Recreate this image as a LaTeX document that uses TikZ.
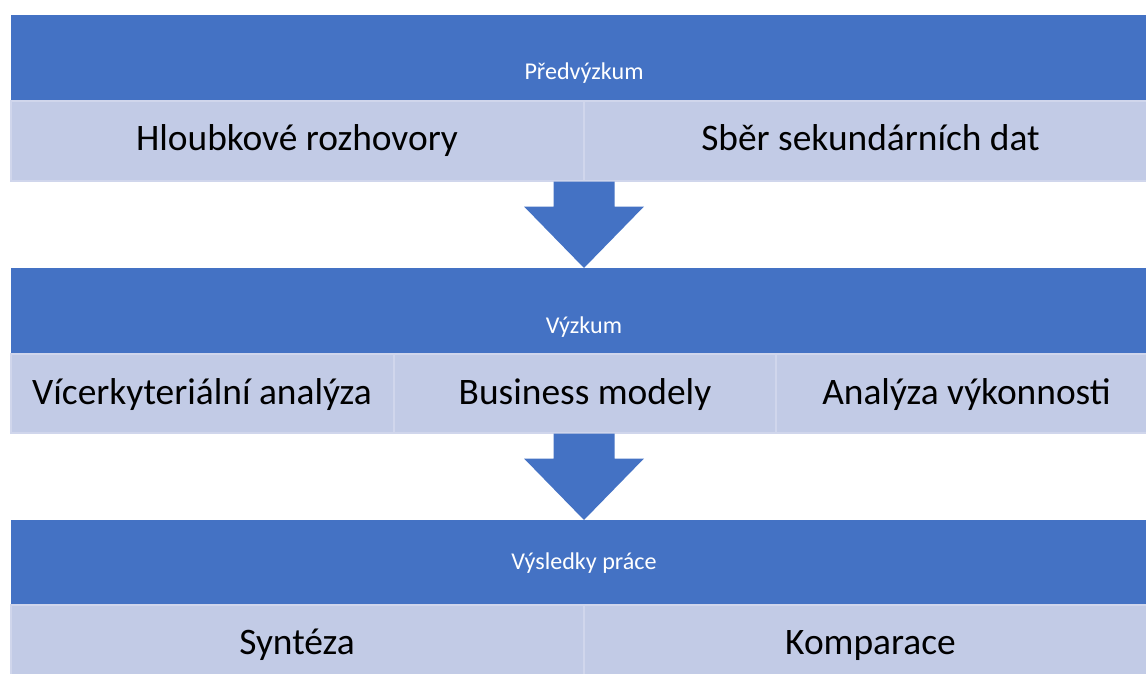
\documentclass[tikz,border=0pt]{standalone}
\usepackage{fontspec}
\setmainfont{Carlito}
\usetikzlibrary{calc}

\definecolor{bandblue}{RGB}{68,114,196}
\definecolor{boxfill}{RGB}{194,203,230}
\definecolor{boxline}{RGB}{208,214,236}

\tikzset{
  band/.style={fill=bandblue, draw=none},
  itembox/.style={fill=boxfill, draw=boxline, line width=2pt},
  bandtext/.style={text=white, font=\fontsize{24.1}{29}\selectfont, anchor=base, inner sep=0pt},
  itemtext/.style={text=black, font=\fontsize{37.4}{45}\selectfont, anchor=base, inner sep=0pt},
  downarrow/.style={fill=bandblue, draw=none}
}

% block arrow from the bottom of one row to the top of the next band
\newcommand{\blockarrow}[2]{%
  \fill[downarrow] ($(#1)+(-30.5,0)$) -- ($(#1)+(30.5,0)$) -- ($(#1)+(30.5,25)$)
    -- ($(#1)+(60,25)$) -- (#2) -- ($(#1)+(-60,25)$) -- ($(#1)+(-30.5,25)$) -- cycle;}

\begin{document}
\begin{tikzpicture}[x=1pt,y=1pt,yscale=-1,xscale=1]
\useasboundingbox (0,0) rectangle (1146,674);
\clip (0,0) rectangle (1146,674);

%Shape: Band [Předvýzkum]
\path[band] (11,15) rectangle (1157,101.5);
\node[bandtext] (predvyzkum) at (584,80) {Předvýzkum};
%Shape: Boxes row 1
\draw[itembox] (10.5,101.5) rectangle (584,180.5);
\draw[itembox] (584,101.5) rectangle (1157,180.5);
\node[itemtext] (hloubkove) at (297,150) {Hloubkové rozhovory};
\node[itemtext] (sber) at (870.5,150) {Sběr sekundárních dat};

%Arrow 1
\coordinate (arrAtop) at (584,181.5);
\coordinate (arrAtip) at (584,268);
\blockarrow{arrAtop}{arrAtip}

%Shape: Band [Výzkum]
\path[band] (11,268) rectangle (1157,354);
\node[bandtext] (vyzkum) at (584,333) {Výzkum};
%Shape: Boxes row 2
\draw[itembox] (10.5,354) rectangle (393.5,432.5);
\draw[itembox] (393.5,354) rectangle (776,432.5);
\draw[itembox] (776,354) rectangle (1157,432.5);
\node[itemtext] (vicekrit) at (202,404) {Vícerkyteriální analýza};
\node[itemtext] (business) at (585,404) {Business modely};
\node[itemtext] (vykonnost) at (966.5,404) {Analýza výkonnosti};

%Arrow 2
\coordinate (arrBtop) at (584,433.5);
\coordinate (arrBtip) at (584,520);
\blockarrow{arrBtop}{arrBtip}

%Shape: Band [Výsledky práce]
\path[band] (11,520) rectangle (1157,604.5);
\node[bandtext] (vysledky) at (584,569) {Výsledky práce};
%Shape: Boxes row 3
\draw[itembox] (10.5,604.5) rectangle (584,683);
\draw[itembox] (584,604.5) rectangle (1157,683);
\node[itemtext] (synteza) at (297,654) {Syntéza};
\node[itemtext] (komparace) at (870.5,654) {Komparace};
\end{tikzpicture}
\end{document}
